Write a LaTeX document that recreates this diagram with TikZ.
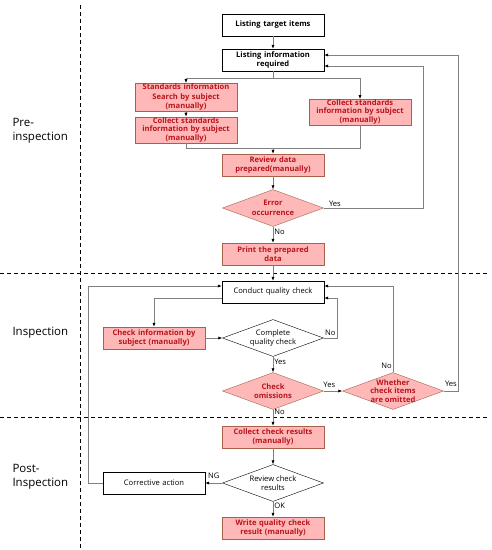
\documentclass[tikz,border=0pt]{standalone}
\usepackage{fontspec}
\setmainfont{Open Sans}
\usetikzlibrary{
    positioning,
    calc,
    shapes.geometric,
    arrows.meta
}
\definecolor{PinkFill}{HTML}{FFB8B8}
\definecolor{BrownEdge}{HTML}{A5614A}
\definecolor{DarkRed}{HTML}{B8141C}
\definecolor{LineGray}{HTML}{808080}

\begin{document}
\begin{tikzpicture}[
    x=1pt, y=-1pt,
    font=\fontsize{7.6}{9.4}\selectfont,
    box/.style={draw=black, fill=white, minimum width=102pt, minimum height=22pt,
        text width=101pt, align=center, inner sep=0.5pt},
    redbox/.style={box, draw=BrownEdge, fill=PinkFill, text=DarkRed,
        font=\fontsize{7.6}{9.4}\selectfont\bfseries},
    decision/.style={diamond, draw=black, fill=white, minimum width=101pt,
        minimum height=37pt, aspect=2.7, inner sep=0pt, align=center},
    reddecision/.style={decision, draw=BrownEdge, fill=PinkFill, text=DarkRed,
        font=\fontsize{7.6}{9.4}\selectfont\bfseries},
    link/.style={draw=LineGray, line width=0.7pt, -{Latex[length=4pt,width=3.2pt,black]}},
    plain/.style={draw=LineGray, line width=0.7pt},
    lane/.style={line width=1pt, dash pattern=on 4pt off 3pt},
    tag/.style={font=\fontsize{7.6}{9}\selectfont, inner sep=1pt},
    phase/.style={font=\fontsize{11.5}{14.5}\selectfont, align=left, anchor=west}
]
    \useasboundingbox (0,0) rectangle (492,550);

    % phases
    \draw[lane] (80,5) -- (80,550);
    \draw[lane] (0,273) -- (487,273);
    \draw[lane] (0,417) -- (487,417);
    \node[phase] (pre) at (9,131) {Pre-\\inspection};
    \node[phase] (insp) at (9,333) {Inspection};
    \node[phase] (post) at (9,477) {Post-\\Inspection};

    % pre-inspection
    \node[box, font=\fontsize{7.6}{9.4}\selectfont\bfseries] (target) at (273,25) {Listing target items};
    \node[box, font=\fontsize{7.6}{9.4}\selectfont\bfseries] (inforeq) at (273,60) {Listing information\\required};
    \node[redbox, minimum height=27pt] (search) at (186,97) {Standards information\\Search by subject\\(manually)};
    \node[redbox, minimum height=25pt, font=\fontsize{7.6}{8.8}\selectfont\bfseries] (collectL) at (186,130) {Collect standards\\information by subject\\(manually)};
    \node[redbox, minimum height=23pt, font=\fontsize{7.6}{8.4}\selectfont\bfseries] (collectR) at (360,112) {Collect standards\\information by subject\\(manually)};
    \node[redbox] (review) at (273,165) {Review data\\prepared(manually)};
    \node[reddecision] (error) at (273,208) {Error\\occurrence};
    \node[redbox] (print) at (273,254) {Print the prepared\\data};

    % inspection
    \node[box] (conduct) at (273,292) {Conduct quality check};
    \node[redbox] (checkinfo) at (154,338) {Check information by\\subject (manually)};
    \node[decision] (complete) at (273,338) {Complete\\quality check};
    \node[reddecision] (omissions) at (273,391) {Check\\omissions};
    \node[reddecision, inner sep=-6pt, font=\fontsize{7.6}{8.8}\selectfont\bfseries] (whether) at (393,391) {Whether\\check items\\are omitted};

    % post-inspection
    \node[redbox] (collect) at (273,437) {Collect check results\\(manually)};
    \node[decision] (reviewchk) at (273,483) {Review check\\results};
    \node[box] (corrective) at (154,483) {Corrective action};
    \node[redbox] (write) at (273,528) {Write quality check\\result (manually)};

    % connectors
    \coordinate (merge) at (273,148);
    \draw[link] (target) -- (inforeq);
    \draw[link] (inforeq.south) -- ++(0,7) -| (search.north);
    \draw[link] (inforeq.south) -- ++(0,7) -| (collectR.north);
    \draw[link] (search) -- (collectL);
    \draw[plain] (collectL.south) |- (merge);
    \draw[plain] (collectR.south) |- (merge);
    \draw[link] (merge) -- (review);
    \draw[link] (review) -- (error);
    \draw[link] (error.east) node[tag, above right, xshift=4pt] {Yes}
        -- ++(100,0) |- ([yshift=-6pt]inforeq.east);
    \draw[link] (error) -- node[tag, right, pos=0.3] {No} (print);
    \draw[link] (print) -- (conduct);

    \draw[link] ([yshift=-6pt]conduct.west) -| (checkinfo.north);
    \draw[link] (checkinfo) -- (complete);
    \draw[link] (complete.east) node[tag, above right, yshift=1pt] {No}
        -- ++(14,0) |- ([yshift=-6pt]conduct.east);
    \draw[link] (complete) -- node[tag, right, pos=0.3] {Yes} (omissions);
    \draw[link] (omissions) -- node[tag, above, pos=0.3, yshift=2pt] {Yes} (whether);
    \draw[link] (whether.north) node[tag, above left, yshift=2pt] {No}
        |- ([yshift=6pt]conduct.east);
    \draw[link] (whether.east) node[tag, above right, yshift=3pt] {Yes}
        -- ++(15,0) |- ([yshift=5pt]inforeq.east);
    \draw[link] (omissions) -- node[tag, right, pos=0.15] {No} (collect);

    \draw[link] (collect) -- (reviewchk);
    \draw[link] (reviewchk) -- node[tag, above, yshift=3pt] {NG} (corrective);
    \draw[link] (reviewchk) -- node[tag, right, pos=0.3] {OK} (write);
    \draw[link] (corrective.west) -- ++(-14,0) |- ([yshift=6pt]conduct.west);

\end{tikzpicture}
\end{document}
